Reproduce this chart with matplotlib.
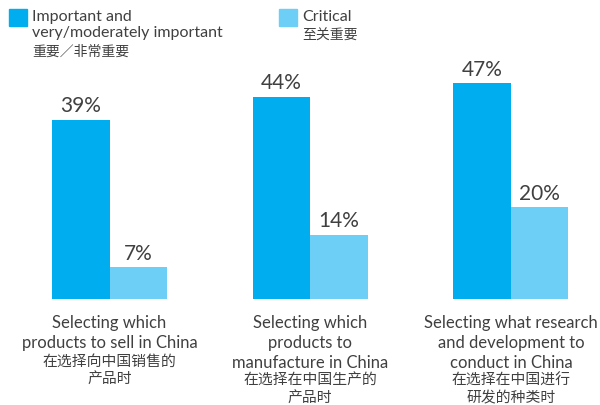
import matplotlib.pyplot as plt
import numpy as np
from matplotlib.patches import Rectangle

cat_en = [
    "Selecting which\nproducts to sell in China",
    "Selecting which\nproducts to\nmanufacture in China",
    "Selecting what research\nand development to\nconduct in China",
]
cat_zh = ["在选择向中国销售的\n产品时", "在选择在中国生产的\n产品时", "在选择在中国进行\n研发的种类时"]
important = [39, 44, 47]
critical = [7, 14, 20]
leg_en = ["Important and\nvery/moderately important", "Critical"]
leg_zh = ["重要／非常重要", "至关重要"]

dark = "#00aeef"
light = "#6dcff6"
txt = "#404040"
fam = ["Lato", "Noto Sans CJK SC", "DejaVu Sans"]
zh = ["Noto Sans CJK SC", "DejaVu Sans"]

W, H = 600, 406
fig = plt.figure(figsize=(6, 4.06), dpi=100)

# axes placed in pixel terms: baseline at y=300, group spacing ~200.7px
sp = 200.7
x0 = 109.5
ax = fig.add_axes([0, (H - 300) / H, 1, 260 / H])
ax.set_xlim(-x0 / sp, (W - x0) / sp)
ax.set_ylim(0, 260 / 4.6)
ax.axis("off")

x = np.arange(len(cat_en))
bw = 57.5 / sp
b1 = ax.bar(x - bw / 2, important, bw, color=dark)
b2 = ax.bar(x + bw / 2, critical, bw, color=light)

for bars, vals in [(b1, important), (b2, critical)]:
    for b, v in zip(bars, vals):
        ax.annotate(f"{v}%", (b.get_x() + b.get_width() / 2, v), xytext=(0, 3),
                    textcoords="offset points", ha="center", va="bottom",
                    fontsize=15, color=txt, family=fam)

for xi, en, z in zip(x, cat_en, cat_zh):
    n = en.count("\n") + 1
    ax.text(xi, -15 / 260, en, transform=ax.get_xaxis_transform(), ha="center", va="top",
            fontsize=12, color=txt, family=fam, linespacing=1.3)
    ax.text(xi, -(17 + 19 * n) / 260, z, transform=ax.get_xaxis_transform(), ha="center",
            va="top", fontsize=10.7, color=txt, family=zh, linespacing=1.25)

# legend
for (lx, col), en, z in zip([(9, dark), (279, light)], leg_en, leg_zh):
    fig.patches.append(Rectangle((lx / W, 1 - 27 / H), 18 / W, 17 / H,
                                 transform=fig.transFigure, color=col))
    n = en.count("\n") + 1
    fig.text((lx + 23) / W, 1 - 10 / H, en, ha="left", va="top", fontsize=11.5,
             color=txt, family=fam, linespacing=1.15)
    fig.text((lx + 23) / W, 1 - (12 + 16.5 * n) / H, z, ha="left", va="top", fontsize=10,
             color=txt, family=zh)

fig.savefig("out.png", dpi=100)
